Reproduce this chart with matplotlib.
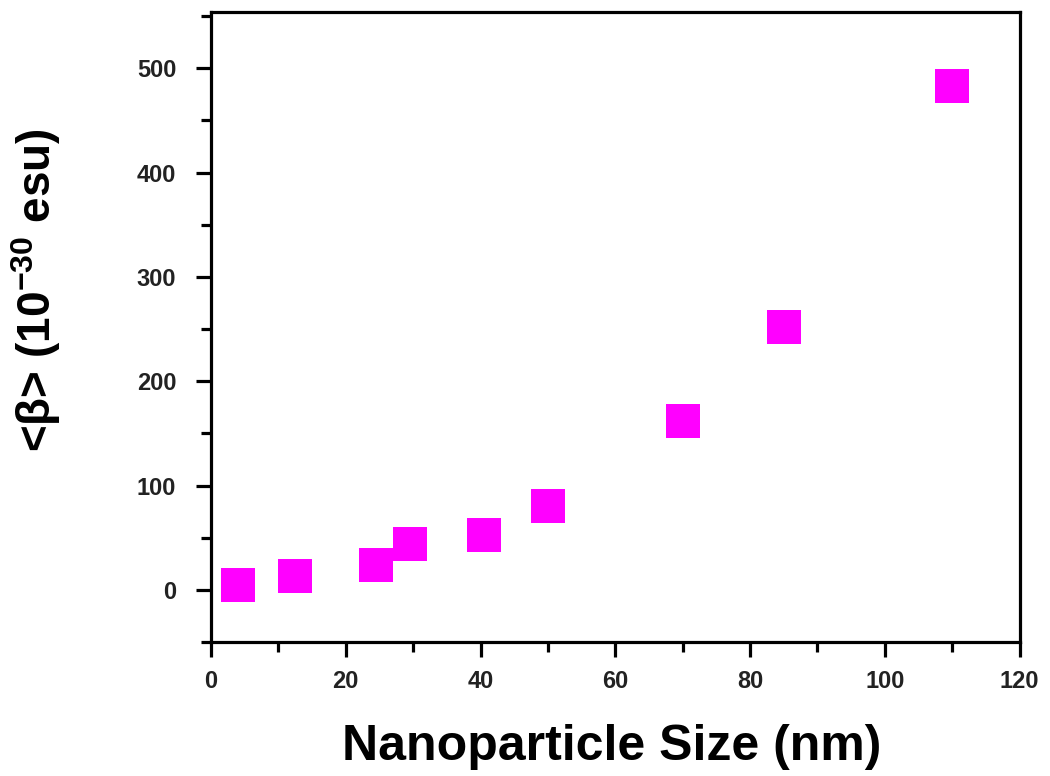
import matplotlib
matplotlib.use('Agg')
import matplotlib.pyplot as plt
from matplotlib.ticker import MultipleLocator

# nanoparticle size (nm) vs <beta> (1e-30 esu)
sizes = [4, 12.5, 24.5, 29.5, 40.5, 50, 70, 85, 110]
beta = [5, 13, 24, 44, 53, 80, 162, 252, 483]

plt.rcParams['font.family'] = ['Liberation Sans', 'DejaVu Sans']
plt.rcParams['font.weight'] = 'bold'
plt.rcParams['mathtext.fontset'] = 'custom'
plt.rcParams['mathtext.rm'] = 'Liberation Sans:bold'
plt.rcParams['mathtext.it'] = 'Liberation Sans:bold'
plt.rcParams['mathtext.default'] = 'rm'

fig = plt.figure(figsize=(10.5, 7.76), dpi=100)
ax = fig.add_axes([0.201, 0.1727, 0.770, 0.8118])

ax.plot(sizes, beta, 's', color='#ff00ff', markersize=25, markeredgewidth=0,
        linestyle='none')

ax.set_xlim(0, 120)
ax.set_ylim(-50, 554)
ax.xaxis.set_major_locator(MultipleLocator(20))
ax.xaxis.set_minor_locator(MultipleLocator(10))
ax.yaxis.set_major_locator(MultipleLocator(100))
ax.yaxis.set_minor_locator(MultipleLocator(50))

for sp in ax.spines.values():
    sp.set_linewidth(2.3)
ax.tick_params(which='both', direction='out', width=2.3, top=False, right=False)
ax.tick_params(which='major', length=11, labelsize=17, labelcolor='#222222')
ax.tick_params(axis='y', which='major', pad=14)
ax.tick_params(axis='x', which='major', pad=9)
ax.tick_params(which='minor', length=7.5)

ax.set_xlabel('Nanoparticle Size (nm)', fontsize=36, fontweight='bold')
ax.xaxis.set_label_coords(0.495, -0.13)
ax.set_ylabel('<β> (10$^{-30}$ esu)', fontsize=33, fontweight='bold')
ax.yaxis.set_label_coords(-0.183, 0.559)

fig.savefig('out.png', dpi=100, facecolor='white')
